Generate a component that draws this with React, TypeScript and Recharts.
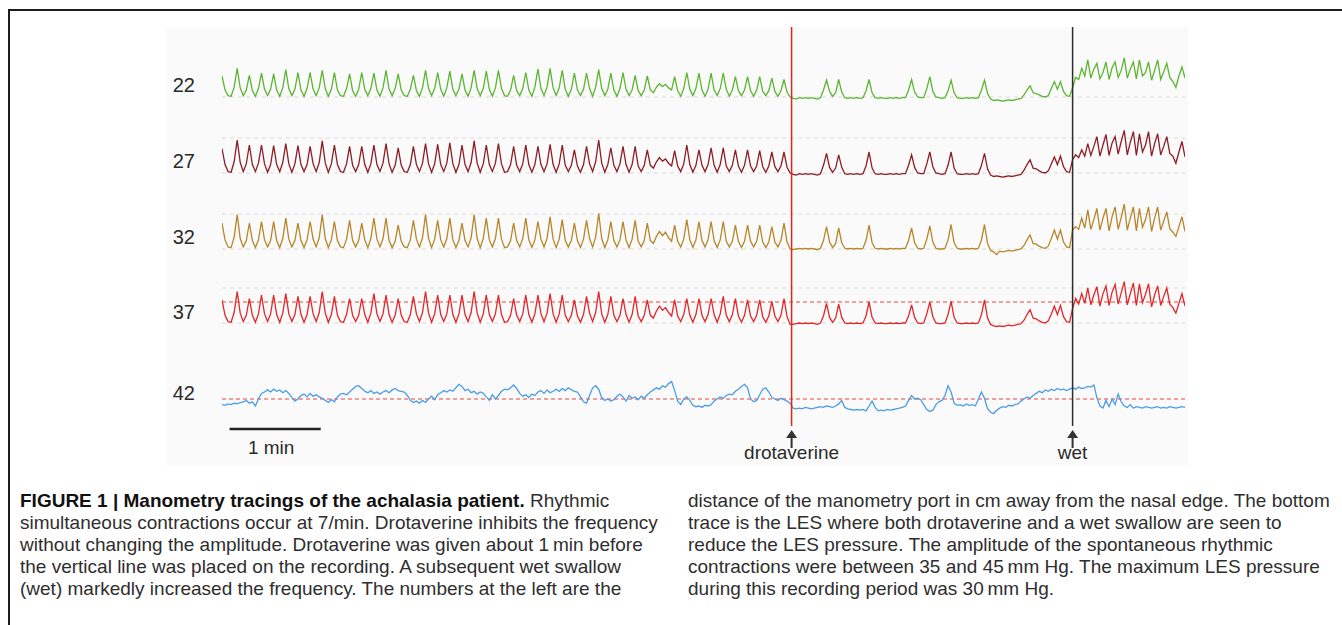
import { LineChart, Line, XAxis, YAxis, ReferenceLine } from "recharts";

// recording sampled every 2 s, pressures in mmHg
const sampleStep = 2;
const portLabels = ["22", "27", "32", "37", "42"];
const drotaverineTime = 375;
const wetSwallowTime = 560;
const scaleBarStart = 5;
const scaleBarLength = 60;
const lesLimit = 30;
const guideLevels = [0, 50];

const trace22 = [
  30, 10, 2, 1, 14, 41, 13, 2, 10, 31, 9, 1, 12, 34, 11, 2, 11, 33, 10, 1,
  13, 39, 12, 2, 11, 35, 10, 1, 12, 35, 11, 2, 13, 38, 12, 1, 11, 35, 10, 2,
  1, 12, 33, 9, 1, 11, 35, 11, 2, 12, 34, 10, 1, 13, 38, 11, 2, 12, 33, 10,
  2, 1, 11, 31, 9, 1, 13, 38, 12, 2, 12, 35, 11, 1, 13, 37, 11, 2, 11, 33,
  10, 1, 13, 38, 12, 2, 12, 37, 11, 1, 13, 38, 12, 2, 1, 10, 31, 9, 2, 12,
  35, 10, 1, 14, 40, 12, 2, 14, 41, 13, 2, 13, 38, 11, 1, 11, 34, 10, 2, 11,
  34, 12, 1, 14, 39, 12, 2, 11, 34, 10, 1, 12, 35, 11, 2, 10, 31, 9, 2, 10,
  30, 10, 6, 14, 19, 15, 18, 13, 10, 29, 9, 1, 12, 35, 11, 2, 12, 34, 10, 1,
  11, 34, 10, 2, 12, 34, 11, 1, 10, 29, 9, 2, 10, 29, 9, 1, 10, 29, 8, 2,
  9, 27, 8, 1, 9, 25, 7, 0,
  -2, -3, -1, -2, -1, -2, -1, -2, -3, -1, 10, 24, 8, 1, 6, 25, 7, -1, -2, -1,
  -2, -1, -2, -1, 9, 25, 6, -1, -2, -1, -2, -2, -1, -2, -1, -2, -1, -1, 10, 25,
  7, 0, -1, -1, 12, 29, 8, 0, -1, -2, -1, 9, 24, 6, -1, -2, -2, -1, -2, -1,
  -2, -1, 10, 24, 5, -3, -5, -4, -5, -6, -5, -4, -5, -4, -3, -2, 3, 10, 16, 6,
  5, 3, 1, 0, 2, 12, 22, 11, 22, 8, 2, 1,
  13, 28, 25, 41, 30, 53, 27, 40, 48, 26, 35, 50, 25, 42, 50, 28, 38, 56, 27, 40,
  50, 26, 53, 30, 35, 50, 24, 38, 53, 25, 36, 48, 28, 22, 14, 30, 43, 27,
];

const trace27 = [
  35, 12, 2, 1, 16, 47, 15, 2, 13, 40, 12, 2, 14, 40, 13, 1, 12, 39, 12, 2,
  15, 42, 13, 1, 13, 39, 12, 2, 12, 38, 13, 2, 15, 46, 14, 1, 13, 40, 12, 2,
  1, 13, 38, 11, 2, 12, 38, 12, 1, 13, 40, 12, 2, 14, 42, 13, 1, 11, 36, 11,
  2, 1, 12, 38, 12, 2, 14, 42, 13, 1, 13, 41, 12, 2, 14, 43, 13, 1, 12, 40,
  12, 2, 15, 46, 14, 1, 13, 40, 12, 2, 14, 42, 13, 1, 2, 12, 38, 11, 2, 13,
  40, 12, 1, 12, 38, 12, 2, 13, 41, 12, 1, 13, 40, 11, 2, 11, 33, 10, 1, 12,
  38, 13, 2, 16, 47, 14, 1, 12, 36, 11, 2, 13, 38, 12, 1, 12, 38, 10, 2, 11,
  33, 11, 7, 16, 22, 17, 20, 14, 10, 32, 10, 2, 13, 40, 12, 1, 11, 33, 11, 2,
  12, 36, 11, 1, 12, 36, 10, 2, 11, 33, 10, 1, 11, 33, 10, 2, 10, 32, 9, 1,
  10, 30, 9, 2, 10, 30, 8, 0,
  -2, -3, -1, -2, -1, -2, -1, -2, -3, -1, 11, 28, 8, 1, 7, 26, 8, -1, -2, -1,
  -2, -1, -2, -1, 10, 30, 7, -1, -2, -1, -2, -2, -1, -2, -1, -2, -1, -1, 11, 26,
  8, 0, -1, -1, 13, 30, 9, 0, -1, -2, -1, 11, 30, 7, -1, -2, -2, -1, -2, -1,
  -2, -1, 11, 28, 6, -3, -5, -4, -5, -6, -5, -4, -5, -4, -3, -2, 4, 12, 19, 7,
  6, 3, 1, 0, 3, 13, 23, 12, 24, 9, 2, 1,
  19, 26, 22, 33, 24, 42, 25, 38, 52, 24, 40, 55, 25, 43, 52, 27, 45, 61, 26, 44,
  59, 25, 56, 30, 40, 59, 24, 42, 56, 26, 38, 52, 28, 24, 14, 30, 45, 23,
];

const trace32 = [
  37, 13, 3, 2, 17, 49, 15, 3, 12, 37, 12, 2, 13, 39, 13, 3, 12, 39, 12, 2,
  15, 44, 14, 3, 12, 37, 12, 2, 13, 39, 14, 3, 16, 49, 15, 2, 13, 39, 12, 3,
  2, 14, 41, 12, 3, 12, 37, 13, 2, 15, 44, 14, 3, 15, 44, 12, 2, 11, 34, 11,
  3, 2, 13, 41, 14, 3, 16, 49, 15, 2, 14, 41, 13, 3, 15, 44, 13, 2, 12, 37,
  12, 3, 16, 49, 15, 2, 15, 44, 13, 3, 15, 44, 14, 2, 3, 12, 37, 12, 3, 15,
  44, 13, 2, 13, 39, 14, 3, 15, 46, 14, 2, 14, 42, 12, 3, 12, 37, 12, 2, 14,
  41, 15, 3, 17, 51, 15, 2, 13, 39, 12, 3, 13, 39, 13, 2, 14, 41, 11, 3, 12,
  37, 12, 8, 18, 25, 19, 24, 16, 11, 34, 11, 3, 14, 42, 13, 2, 13, 39, 12, 3,
  13, 39, 12, 2, 13, 39, 11, 3, 11, 34, 11, 2, 11, 34, 11, 3, 11, 34, 10, 2,
  10, 32, 10, 3, 12, 37, 10, 0,
  -1, 0, 1, 0, 1, 0, 1, 0, -1, 1, 12, 32, 10, 2, 8, 30, 9, 1, 0, 1,
  0, 1, 0, 1, 12, 34, 9, 1, 0, 1, 0, 0, 1, 0, 1, 0, 1, 1, 12, 30,
  9, 1, 0, 1, 14, 33, 10, 1, 0, 0, 1, 13, 35, 9, 1, 0, 0, 1, 0, 1,
  0, 1, 13, 35, 8, -2, -4, -8, -3, -4, -3, -2, -3, -2, -1, 0, 5, 13, 20, 8,
  7, 4, 2, 1, 4, 15, 27, 14, 27, 10, 3, 2,
  27, 32, 28, 44, 30, 56, 28, 42, 58, 27, 44, 58, 26, 46, 60, 28, 45, 64, 27, 44,
  60, 26, 58, 31, 42, 60, 25, 44, 60, 27, 40, 53, 29, 24, 18, 32, 46, 25,
];

const trace37 = [
  33, 11, 2, 1, 15, 45, 14, 2, 11, 35, 11, 1, 13, 40, 13, 2, 13, 40, 12, 1,
  14, 42, 13, 2, 12, 38, 12, 1, 12, 38, 13, 2, 15, 45, 14, 1, 12, 38, 11, 2,
  1, 12, 35, 11, 2, 11, 35, 12, 1, 14, 42, 13, 2, 13, 40, 12, 1, 11, 35, 11,
  2, 1, 12, 38, 13, 2, 15, 45, 14, 1, 13, 40, 12, 2, 13, 40, 12, 1, 13, 40,
  12, 2, 15, 45, 14, 1, 13, 40, 12, 2, 13, 40, 12, 1, 2, 11, 35, 11, 2, 13,
  40, 12, 1, 13, 40, 13, 2, 14, 42, 13, 1, 13, 40, 11, 2, 11, 33, 10, 1, 12,
  38, 14, 2, 15, 45, 13, 1, 12, 38, 11, 2, 11, 35, 12, 1, 12, 38, 10, 2, 11,
  33, 11, 7, 17, 24, 18, 22, 15, 10, 33, 10, 2, 12, 35, 11, 1, 12, 35, 11, 2,
  12, 35, 12, 1, 13, 38, 11, 2, 12, 35, 10, 1, 11, 33, 10, 2, 11, 33, 9, 1,
  10, 31, 10, 2, 11, 35, 9, -2,
  -2, -1, 0, -1, 0, -1, 0, -1, -2, 0, 10, 28, 8, 1, 7, 27, 8, 0, -1, 0,
  -1, 0, -1, 0, 10, 30, 8, 0, -1, 0, -1, -1, 0, -1, 0, -1, 0, 0, 10, 26,
  8, 0, -1, 0, 13, 30, 9, 0, -1, -1, 0, 12, 31, 8, 0, -1, -1, 0, -1, 0,
  -1, 0, 12, 33, 7, -2, -4, -5, -4, -5, -4, -3, -4, -3, -2, -1, 4, 12, 19, 7,
  6, 3, 1, 0, 3, 13, 24, 12, 25, 9, 2, 1,
  21, 35, 27, 42, 28, 50, 26, 40, 52, 24, 42, 53, 25, 44, 55, 27, 43, 59, 26, 42,
  57, 25, 56, 29, 41, 56, 23, 40, 53, 25, 38, 50, 27, 22, 14, 28, 42, 24,
];

// LES trace
const trace42 = [
  22, 21, 23, 22, 24, 23, 25, 26, 28, 24, 26, 20, 30, 38, 40, 43, 40, 44, 41, 43,
  39, 42, 38, 32, 27, 30, 35, 37, 33, 38, 34, 36, 33, 31, 28, 25, 29, 26, 33, 37,
  38, 36, 40, 44, 48, 49, 45, 41, 39, 42, 38, 40, 37, 40, 42, 39, 43, 45, 42, 41,
  40, 35, 28, 25, 27, 24, 28, 25, 30, 34, 29, 36, 39, 42, 40, 43, 41, 46, 51, 48,
  42, 44, 39, 41, 37, 40, 38, 33, 28, 36, 30, 35, 41, 44, 43, 46, 50, 45, 38, 34,
  36, 32, 37, 35, 40, 42, 38, 43, 39, 41, 44, 41, 45, 42, 46, 43, 41, 40, 33, 26,
  24, 35, 46, 49, 44, 32, 28, 30, 27, 29, 34, 37, 33, 27, 35, 31, 33, 29, 34, 31,
  36, 40, 43, 46, 44, 49, 47, 52, 55, 42, 27, 22, 30, 33, 28, 21, 19, 20, 18, 21,
  20, 22, 27, 30, 33, 31, 35, 37, 36, 41, 44, 48, 51, 46, 30, 26, 28, 36, 44, 46,
  40, 32, 30, 28, 31, 29, 27, 24, 17, 16, 17, 16, 18, 17, 16, 17, 18, 19, 18, 20,
  19, 18, 20, 23, 28, 18, 16, 15, 14, 15, 14, 15, 13, 20, 27, 18, 13, 14, 13, 15,
  14, 15, 16, 17, 18, 20, 28, 35, 30, 31, 29, 22, 15, 12, 14, 22, 26, 28, 35, 49,
  40, 24, 21, 22, 20, 23, 21, 22, 20, 30, 40, 31, 16, 11, 9, 14, 17, 19, 18, 21,
  20, 22, 23, 27, 30, 33, 31, 35, 38, 41, 39, 43, 41, 44, 42, 45, 43, 44, 42, 44,
  46, 44, 47, 45, 46, 48, 47, 50, 32, 20, 17, 28, 19, 30, 22, 37, 26, 20, 18, 22,
  17, 19, 18, 17, 19, 18, 17, 18, 19, 17, 18, 17, 19, 18, 17, 18, 19, 18,
];

const FONT = '"Liberation Sans", Arial, Helvetica, sans-serif';

// layout of the stacked traces
const CHART_W = 1342;
const CHART_H = 480;
const PLOT = { left: 222, right: 1185, top: 27, bottom: 426 };
const PX_PER_MMHG = 0.7;
const zeroY = [97, 173, 249, 323, 420];
const labelLevel = [18, 18, 17, 16, 39];

const traces = [
  { id: "22", values: trace22, color: "#5cb531", guides: [0] },
  { id: "27", values: trace27, color: "#8d1e24", guides: guideLevels },
  { id: "32", values: trace32, color: "#b7862b", guides: guideLevels },
  { id: "37", values: trace37, color: "#e3262a", guides: guideLevels },
  { id: "42", values: trace42, color: "#4c9de6", guides: [] as number[] },
];

const rows = trace22.map((_, i) => {
  const row: Record<string, number> = { t: i * sampleStep };
  traces.forEach((tr) => {
    row["p" + tr.id] = tr.values[i];
  });
  return row;
});

function domainFor(y0: number): [number, number] {
  const min = -(PLOT.bottom - y0) / PX_PER_MMHG;
  return [min, min + (PLOT.bottom - PLOT.top) / PX_PER_MMHG];
}

function markerLabel(text: string) {
  return (props: any) => {
    const vb = props.viewBox || {};
    const x = vb.x ?? 0;
    const bottom = (vb.y ?? 0) + (vb.height ?? 0);
    return (
      <g>
        <line x1={x} x2={x} y1={bottom + 10} y2={bottom + 22} stroke="#333" strokeWidth={2} />
        <path
          d={`M${x - 5.5},${bottom + 12} L${x},${bottom + 4} L${x + 5.5},${bottom + 12} Z`}
          fill="#333"
        />
        <text
          x={x}
          y={bottom + 26}
          textAnchor="middle"
          dominantBaseline="central"
          fontSize={19}
          fontFamily={FONT}
          fill="#2a2a2a"
        >
          {text}
        </text>
      </g>
    );
  };
}

function scaleBarLabel(props: any) {
  const vb = props.viewBox || {};
  return (
    <text
      x={(vb.x ?? 0) + (vb.width ?? 0) / 2 - 4}
      y={(vb.y ?? 0) + 18.5}
      textAnchor="middle"
      dominantBaseline="central"
      fontSize={19}
      fontFamily={FONT}
      fill="#2a2a2a"
    >
      1 min
    </text>
  );
}

const captionLeft = [
  null,
  "simultaneous contractions occur at 7/min. Drotaverine inhibits the frequency",
  "without changing the amplitude. Drotaverine was given about 1\u2009min before",
  "the vertical line was placed on the recording. A subsequent wet swallow",
  "(wet) markedly increased the frequency. The numbers at the left are the",
];

const captionRight = [
  "distance of the manometry port in cm away from the nasal edge. The bottom",
  "trace is the LES where both drotaverine and a wet swallow are seen to",
  "reduce the LES pressure. The amplitude of the spontaneous rhythmic",
  "contractions were between 35 and 45\u2009mm Hg. The maximum LES pressure",
  "during this recording period was 30\u2009mm Hg.",
];

function Caption() {
  const lineStyle = (top: number, left: number) => ({
    position: "absolute" as const,
    left,
    top,
    whiteSpace: "nowrap" as const,
    fontSize: 19,
    lineHeight: "22px",
    color: "#2e2e2e",
    fontFamily: FONT,
  });
  return (
    <>
      {captionLeft.map((line, i) => (
        <div key={"l" + i} style={lineStyle(490 + i * 22, 20)}>
          {line === null ? (
            <>
              <b style={{ color: "#111" }}>FIGURE 1 | Manometry tracings of the achalasia patient.</b>{" "}
              Rhythmic
            </>
          ) : (
            line
          )}
        </div>
      ))}
      {captionRight.map((line, i) => (
        <div key={"r" + i} style={lineStyle(490 + i * 22, 688)}>
          {line}
        </div>
      ))}
    </>
  );
}

export default function App() {
  const firstAxis = "p" + traces[0].id;
  const lesAxis = "p" + traces[4].id;
  return (
    <div
      style={{
        position: "absolute",
        left: 0,
        top: 0,
        width: 1342,
        height: 625,
        background: "#fff",
        overflow: "hidden",
        fontFamily: FONT,
      }}
    >
      <div
        style={{
          position: "absolute",
          left: 8,
          top: 9,
          right: 0,
          bottom: 0,
          borderTop: "2px solid #1c1c1c",
          borderLeft: "2px solid #1c1c1c",
        }}
      />
      <div
        style={{
          position: "absolute",
          left: 167,
          top: 27,
          width: 1021,
          height: 439,
          background: "#fafafa",
        }}
      />
      <div style={{ position: "absolute", left: 0, top: 0 }}>
        <LineChart
          width={CHART_W}
          height={CHART_H}
          data={rows}
          margin={{
            top: PLOT.top,
            left: PLOT.left,
            right: CHART_W - PLOT.right,
            bottom: CHART_H - PLOT.bottom,
          }}
        >
          <XAxis type="number" dataKey="t" domain={[0, (trace22.length - 1) * sampleStep]} hide allowDataOverflow />
          {traces.map((tr, i) => (
            <YAxis
              key={tr.id}
              yAxisId={"p" + tr.id}
              type="number"
              domain={domainFor(zeroY[i])}
              allowDataOverflow
              hide
            />
          ))}
          {traces.map((tr) =>
            tr.guides.map((g) => (
              <ReferenceLine
                key={tr.id + "g" + g}
                yAxisId={"p" + tr.id}
                y={g}
                stroke="#dadada"
                strokeWidth={1}
                strokeDasharray="4 4"
              />
            ))
          )}
          {[traces[3], traces[4]].map((tr) => (
            <ReferenceLine
              key={tr.id + "les"}
              yAxisId={"p" + tr.id}
              y={lesLimit}
              stroke="#e8453a"
              strokeWidth={1.2}
              strokeDasharray="4 3"
            />
          ))}
          {traces.map((tr, i) => (
            <ReferenceLine
              key={tr.id + "label"}
              yAxisId={"p" + tr.id}
              y={labelLevel[i]}
              stroke="none"
              label={{
                value: portLabels[i],
                position: "left",
                offset: 27,
                fill: "#2a2a2a",
                fontSize: 20,
                fontFamily: FONT,
              }}
            />
          ))}
          {traces.map((tr) => (
            <Line
              key={tr.id}
              yAxisId={"p" + tr.id}
              dataKey={"p" + tr.id}
              type="linear"
              stroke={tr.color}
              strokeWidth={1.3}
              dot={false}
              activeDot={false}
              isAnimationActive={false}
            />
          ))}
          <ReferenceLine
            yAxisId={firstAxis}
            x={drotaverineTime}
            stroke="#e4231c"
            strokeWidth={1.5}
            label={markerLabel("drotaverine")}
          />
          <ReferenceLine
            yAxisId={firstAxis}
            x={wetSwallowTime}
            stroke="#2e2e2e"
            strokeWidth={1.5}
            label={markerLabel("wet")}
          />
          <ReferenceLine
            yAxisId={lesAxis}
            segment={[
              { x: scaleBarStart, y: -13 },
              { x: scaleBarStart + scaleBarLength, y: -13 },
            ]}
            ifOverflow="visible"
            stroke="#222"
            strokeWidth={2.5}
            label={scaleBarLabel}
          />
        </LineChart>
      </div>
      <Caption />
    </div>
  );
}
